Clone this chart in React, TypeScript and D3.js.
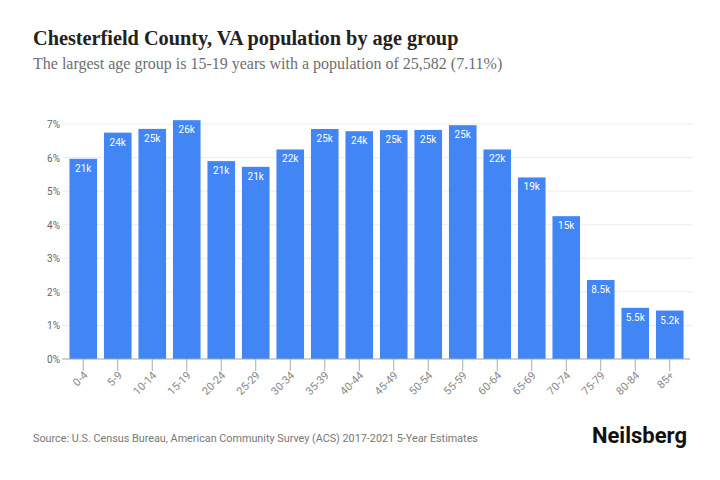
import { useEffect, useRef } from "react";
import * as d3 from "d3";

// age groups and population counts
const ageGroups = ["0-4", "5-9", "10-14", "15-19", "20-24", "25-29", "30-34", "35-39", "40-44",
  "45-49", "50-54", "55-59", "60-64", "65-69", "70-74", "75-79", "80-84", "85+"];
const population = [21450, 24250, 24650, 25582, 21200, 20590, 22450, 24640, 24400,
  24520, 24540, 25050, 22450, 19450, 15300, 8460, 5480, 5190];
const yTicks = [0, 0.01, 0.02, 0.03, 0.04, 0.05, 0.06, 0.07];

const title = "Chesterfield County, VA population by age group";
const source = "Source: U.S. Census Bureau, American Community Survey (ACS) 2017-2021 5-Year Estimates";

const width = 720;
const height = 480;

export default function App() {
  const svgRef = useRef<SVGSVGElement>(null);

  useEffect(() => {
    const svg = d3.select(svgRef.current);
    svg.selectAll("*").remove();

    const total = d3.sum(population);
    const data = ageGroups.map((g, i) => ({ group: g, pop: population[i], share: population[i] / total }));
    const top = data.reduce((a, b) => (b.pop > a.pop ? b : a));

    const x = d3.scaleBand().domain(ageGroups).range([66, 687]).paddingInner(0.2).paddingOuter(0.1);
    const y = d3.scaleLinear().domain([0, 0.07]).range([359, 124]);

    svg.append("rect").attr("width", width).attr("height", height).attr("fill", "#fff");

    // title + subtitle
    svg.append("text")
      .attr("x", 33).attr("y", 45)
      .attr("font-family", "'Liberation Serif', serif")
      .attr("font-weight", 700)
      .attr("font-size", 20.3)
      .attr("fill", "#222")
      .text(title);

    svg.append("text")
      .attr("x", 33).attr("y", 69)
      .attr("font-family", "'Liberation Serif', serif")
      .attr("font-size", 16)
      .attr("fill", "#6e6e6e")
      .text(`The largest age group is ${top.group} years with a population of ${d3.format(",")(top.pop)} (${d3.format(".2f")(top.share * 100)}%)`);

    // gridlines
    svg.append("g")
      .selectAll("line")
      .data(yTicks.slice(1))
      .join("line")
      .attr("x1", 62).attr("x2", 693)
      .attr("y1", d => y(d)).attr("y2", d => y(d))
      .attr("stroke", "#ececec");

    // y labels
    svg.append("g")
      .selectAll("text")
      .data(yTicks)
      .join("text")
      .attr("x", 60).attr("y", d => y(d) + 4)
      .attr("text-anchor", "end")
      .attr("font-family", "Roboto, sans-serif")
      .attr("font-size", 10)
      .attr("fill", "#666")
      .text(d => d3.format(".0%")(d));

    // bars
    svg.append("g")
      .selectAll("rect")
      .data(data)
      .join("rect")
      .attr("x", d => x(d.group)!)
      .attr("width", x.bandwidth())
      .attr("y", d => y(d.share))
      .attr("height", d => y(0) - y(d.share))
      .attr("fill", "#4285f4");

    svg.append("g")
      .selectAll("text")
      .data(data)
      .join("text")
      .attr("x", d => x(d.group)! + x.bandwidth() / 2)
      .attr("y", d => y(d.share) + 13)
      .attr("text-anchor", "middle")
      .attr("font-family", "Roboto, sans-serif")
      .attr("font-size", 10)
      .attr("fill", "#fff")
      .text(d => d3.format(".2s")(d.pop));

    // baseline + ticks
    svg.append("line")
      .attr("x1", 62).attr("x2", 690)
      .attr("y1", y(0)).attr("y2", y(0))
      .attr("stroke", "#9aa6b8");

    const xg = svg.append("g")
      .selectAll("g")
      .data(ageGroups)
      .join("g")
      .attr("transform", d => `translate(${x(d)! + x.bandwidth() / 2},${y(0)})`);

    xg.append("line").attr("y2", 12).attr("stroke", "#aaa");
    xg.append("text")
      .attr("transform", "translate(5,17) rotate(-45)")
      .attr("text-anchor", "end")
      .attr("font-family", "Roboto, sans-serif")
      .attr("font-size", 11)
      .attr("fill", "#888")
      .text(d => d);

    // footer
    svg.append("text")
      .attr("x", 33).attr("y", 442)
      .attr("font-family", "Roboto, sans-serif")
      .attr("font-size", 10.8)
      .attr("fill", "#777")
      .text(source);

    svg.append("text")
      .attr("x", 687).attr("y", 443)
      .attr("text-anchor", "end")
      .attr("font-family", "Roboto, sans-serif")
      .attr("font-weight", 700)
      .attr("font-size", 22)
      .attr("fill", "#111")
      .text("Neilsberg");
  }, []);

  return (
    <svg ref={svgRef} width={width} height={height}
      style={{ position: "absolute", left: 0, top: 0 }} />
  );
}
